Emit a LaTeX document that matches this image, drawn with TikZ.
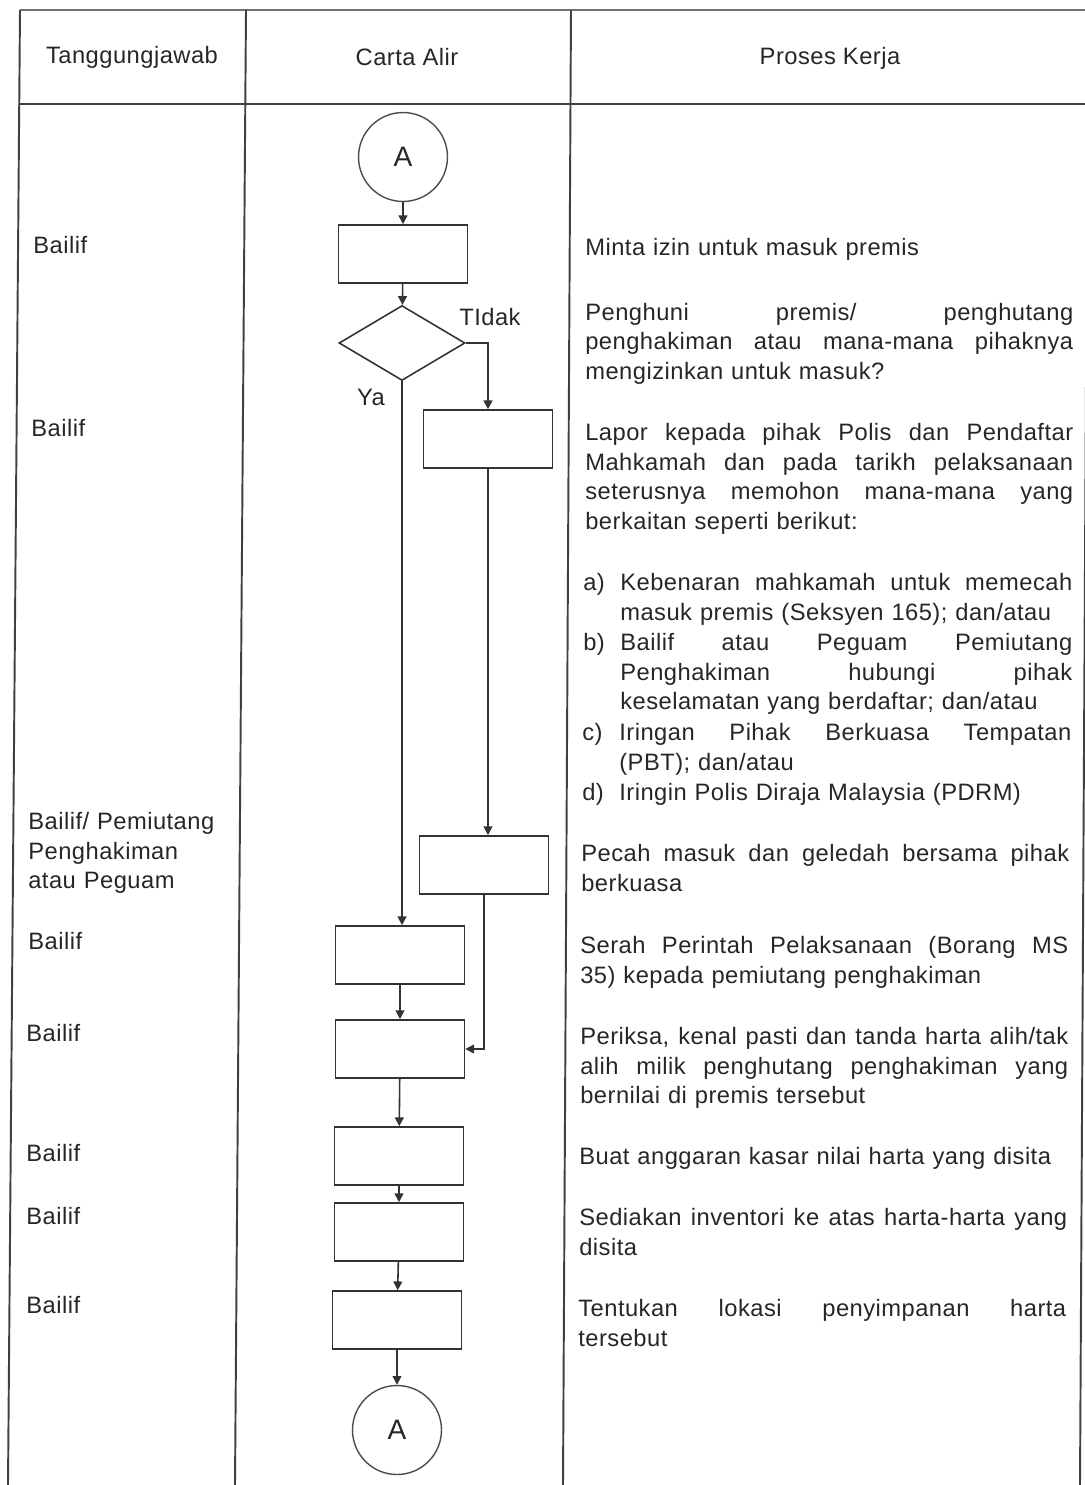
\documentclass[tikz,border=0pt]{standalone}
\usepackage{fontspec}
\setmainfont{Liberation Sans}[LetterSpace=2]
\usetikzlibrary{shapes, arrows.meta, positioning}

\newlength\pkw \setlength\pkw{9.76cm}
\newlength\pkl \setlength\pkl{9.04cm}
\newcommand\jl[2][\pkw]{\makebox[#1][s]{\spaceskip=\fontdimen2\font plus 1fil\relax #2}}

\begin{document}
\begin{tikzpicture}[x=0.02cm, y=-0.02cm,
        every node/.style = {font=\fontsize{13.5}{17.07}\selectfont, text=black!85},
        tbl/.style = {draw=black!75, line width=1.1pt},
        box/.style = {draw=black!80, line width=0.9pt, minimum width=2.58cm, minimum height=1.16cm, inner sep=0pt},
        conn/.style = {circle, draw=black!70, line width=0.8pt, minimum size=1.78cm, inner sep=0pt, font=\fontsize{16}{19}\selectfont},
        dec/.style = {diamond, draw=black!80, line width=0.9pt, minimum width=2.52cm, minimum height=1.5cm, inner sep=0pt},
        arr/.style = {draw=black!80, line width=0.9pt, -{Triangle[length=5pt, width=5pt]}},
        who/.style = {anchor=base west, inner sep=0pt, text width=4.2cm, align=left},
        proc/.style = {anchor=base west, inner sep=0pt, text width=\pkw, align=left},
        item/.style = {anchor=base west, inner sep=0pt, text width=\pkl, align=left}]
        \useasboundingbox (0, 0) rectangle (1085, 1485);

        % table
        \draw[draw=black!55, line width=0.9pt] (20, 10) -- (1085, 10);
        \draw[tbl] (20, 104) -- (1085, 104);
        \draw[tbl] (20, 10) -- (8, 1485);
        \draw[tbl] (246, 10) -- (235, 1485);
        \draw[tbl] (571, 10) -- (563, 1485);
        \draw[tbl] (1088, 10) -- (1080, 1485);

        \node (hWho) at (132, 57) {Tanggungjawab};
        \node (hFlow) at (407, 57) {Carta Alir};
        \node (hProc) at (830, 58) {Proses Kerja};

        % flowchart
        \node[conn] (cA1) at (403, 157) {A};
        \node[box] (b1) at (403, 254) {};
        \node[dec] (d1) at (402, 343) {};
        \node[box] (b2) at (488, 439) {};
        \node[box] (b3) at (484, 865) {};
        \node[box] (b4) at (400, 955) {};
        \node[box] (b5) at (400, 1049) {};
        \node[box] (b6) at (399, 1156) {};
        \node[box] (b7) at (399, 1232) {};
        \node[box] (b8) at (397, 1320) {};
        \node[conn] (cA2) at (397, 1430) {A};

        \node (lNo) at (490, 317) {TIdak};
        \node (lYes) at (371, 397) {Ya};

        \draw[arr] (cA1) -- (b1);
        \draw[arr] (b1) -- (d1);
        \draw[arr] (d1.east) -| (b2.north);
        \draw[arr] (d1.south) -- (d1.south |- b4.north);
        \draw[arr] (b2.south) -- (b2.south |- b3.north);
        \draw[arr] (b3.south) |- (b5.east);
        \draw[arr] (b4) -- (b5);
        \draw[arr] (b5) -- (b6);
        \draw[arr] (b6) -- (b7);
        \draw[arr] (b7) -- (b8);
        \draw[arr] (b8) -- (cA2);

        % tanggungjawab
        \node[who] (w1) at (33, 253) {Bailif};
        \node[who] (w2) at (31, 436) {Bailif};
        \node[who] (w3) at (28, 829) {Bailif/ Pemiutang\\Penghakiman\\atau Peguam};
        \node[who] (w4) at (28, 949) {Bailif};
        \node[who] (w5) at (26, 1041) {Bailif};
        \node[who] (w6) at (26, 1161) {Bailif};
        \node[who] (w7) at (26, 1224) {Bailif};
        \node[who] (w8) at (26, 1313) {Bailif};

        % proses kerja
        \node[proc] (p1) at (585, 255) {Minta izin untuk masuk premis};
        \node[proc] (p2) at (585, 320) {\jl{Penghuni premis/ penghutang}\\
            \jl{penghakiman atau mana-mana pihaknya}\\
            mengizinkan untuk masuk?};
        \node[proc] (p3) at (585, 440) {\jl{Lapor kepada pihak Polis dan Pendaftar}\\
            \jl{Mahkamah dan pada tarikh pelaksanaan}\\
            \jl{seterusnya memohon mana-mana yang}\\
            berkaitan seperti berikut:};
        \node[proc] (pa) at (583, 590) {a)};
        \node[item] (ia) at (620, 590) {\jl[\pkl]{Kebenaran mahkamah untuk memecah}\\
            masuk premis (Seksyen 165); dan/atau};
        \node[proc] (pb) at (583, 650) {b)};
        \node[item] (ib) at (620, 650) {\jl[\pkl]{Bailif atau Peguam Pemiutang}\\
            \jl[\pkl]{Penghakiman hubungi pihak}\\
            keselamatan yang berdaftar; dan/atau};
        \node[proc] (pc) at (582, 740) {c)};
        \node[item] (ic) at (619, 740) {\jl[\pkl]{Iringan Pihak Berkuasa Tempatan}\\
            (PBT); dan/atau};
        \node[proc] (pd) at (582, 800) {d)};
        \node[item] (id) at (619, 800) {Iringin Polis Diraja Malaysia (PDRM)};
        \node[proc] (p4) at (581, 861) {\jl{Pecah masuk dan geledah bersama pihak}\\
            berkuasa};
        \node[proc] (p5) at (580, 953) {\jl{Serah Perintah Pelaksanaan (Borang MS}\\
            35) kepada pemiutang penghakiman};
        \node[proc] (p6) at (580, 1044) {\jl{Periksa, kenal pasti dan tanda harta alih/tak}\\
            \jl{alih milik penghutang penghakiman yang}\\
            bernilai di premis tersebut};
        \node[proc] (p7) at (579, 1164) {Buat anggaran kasar nilai harta yang disita};
        \node[proc] (p8) at (579, 1225) {\jl{Sediakan inventori ke atas harta-harta yang}\\
            disita};
        \node[proc] (p9) at (578, 1316) {\jl{Tentukan lokasi penyimpanan harta}\\
            tersebut};
    \end{tikzpicture}
\end{document}
